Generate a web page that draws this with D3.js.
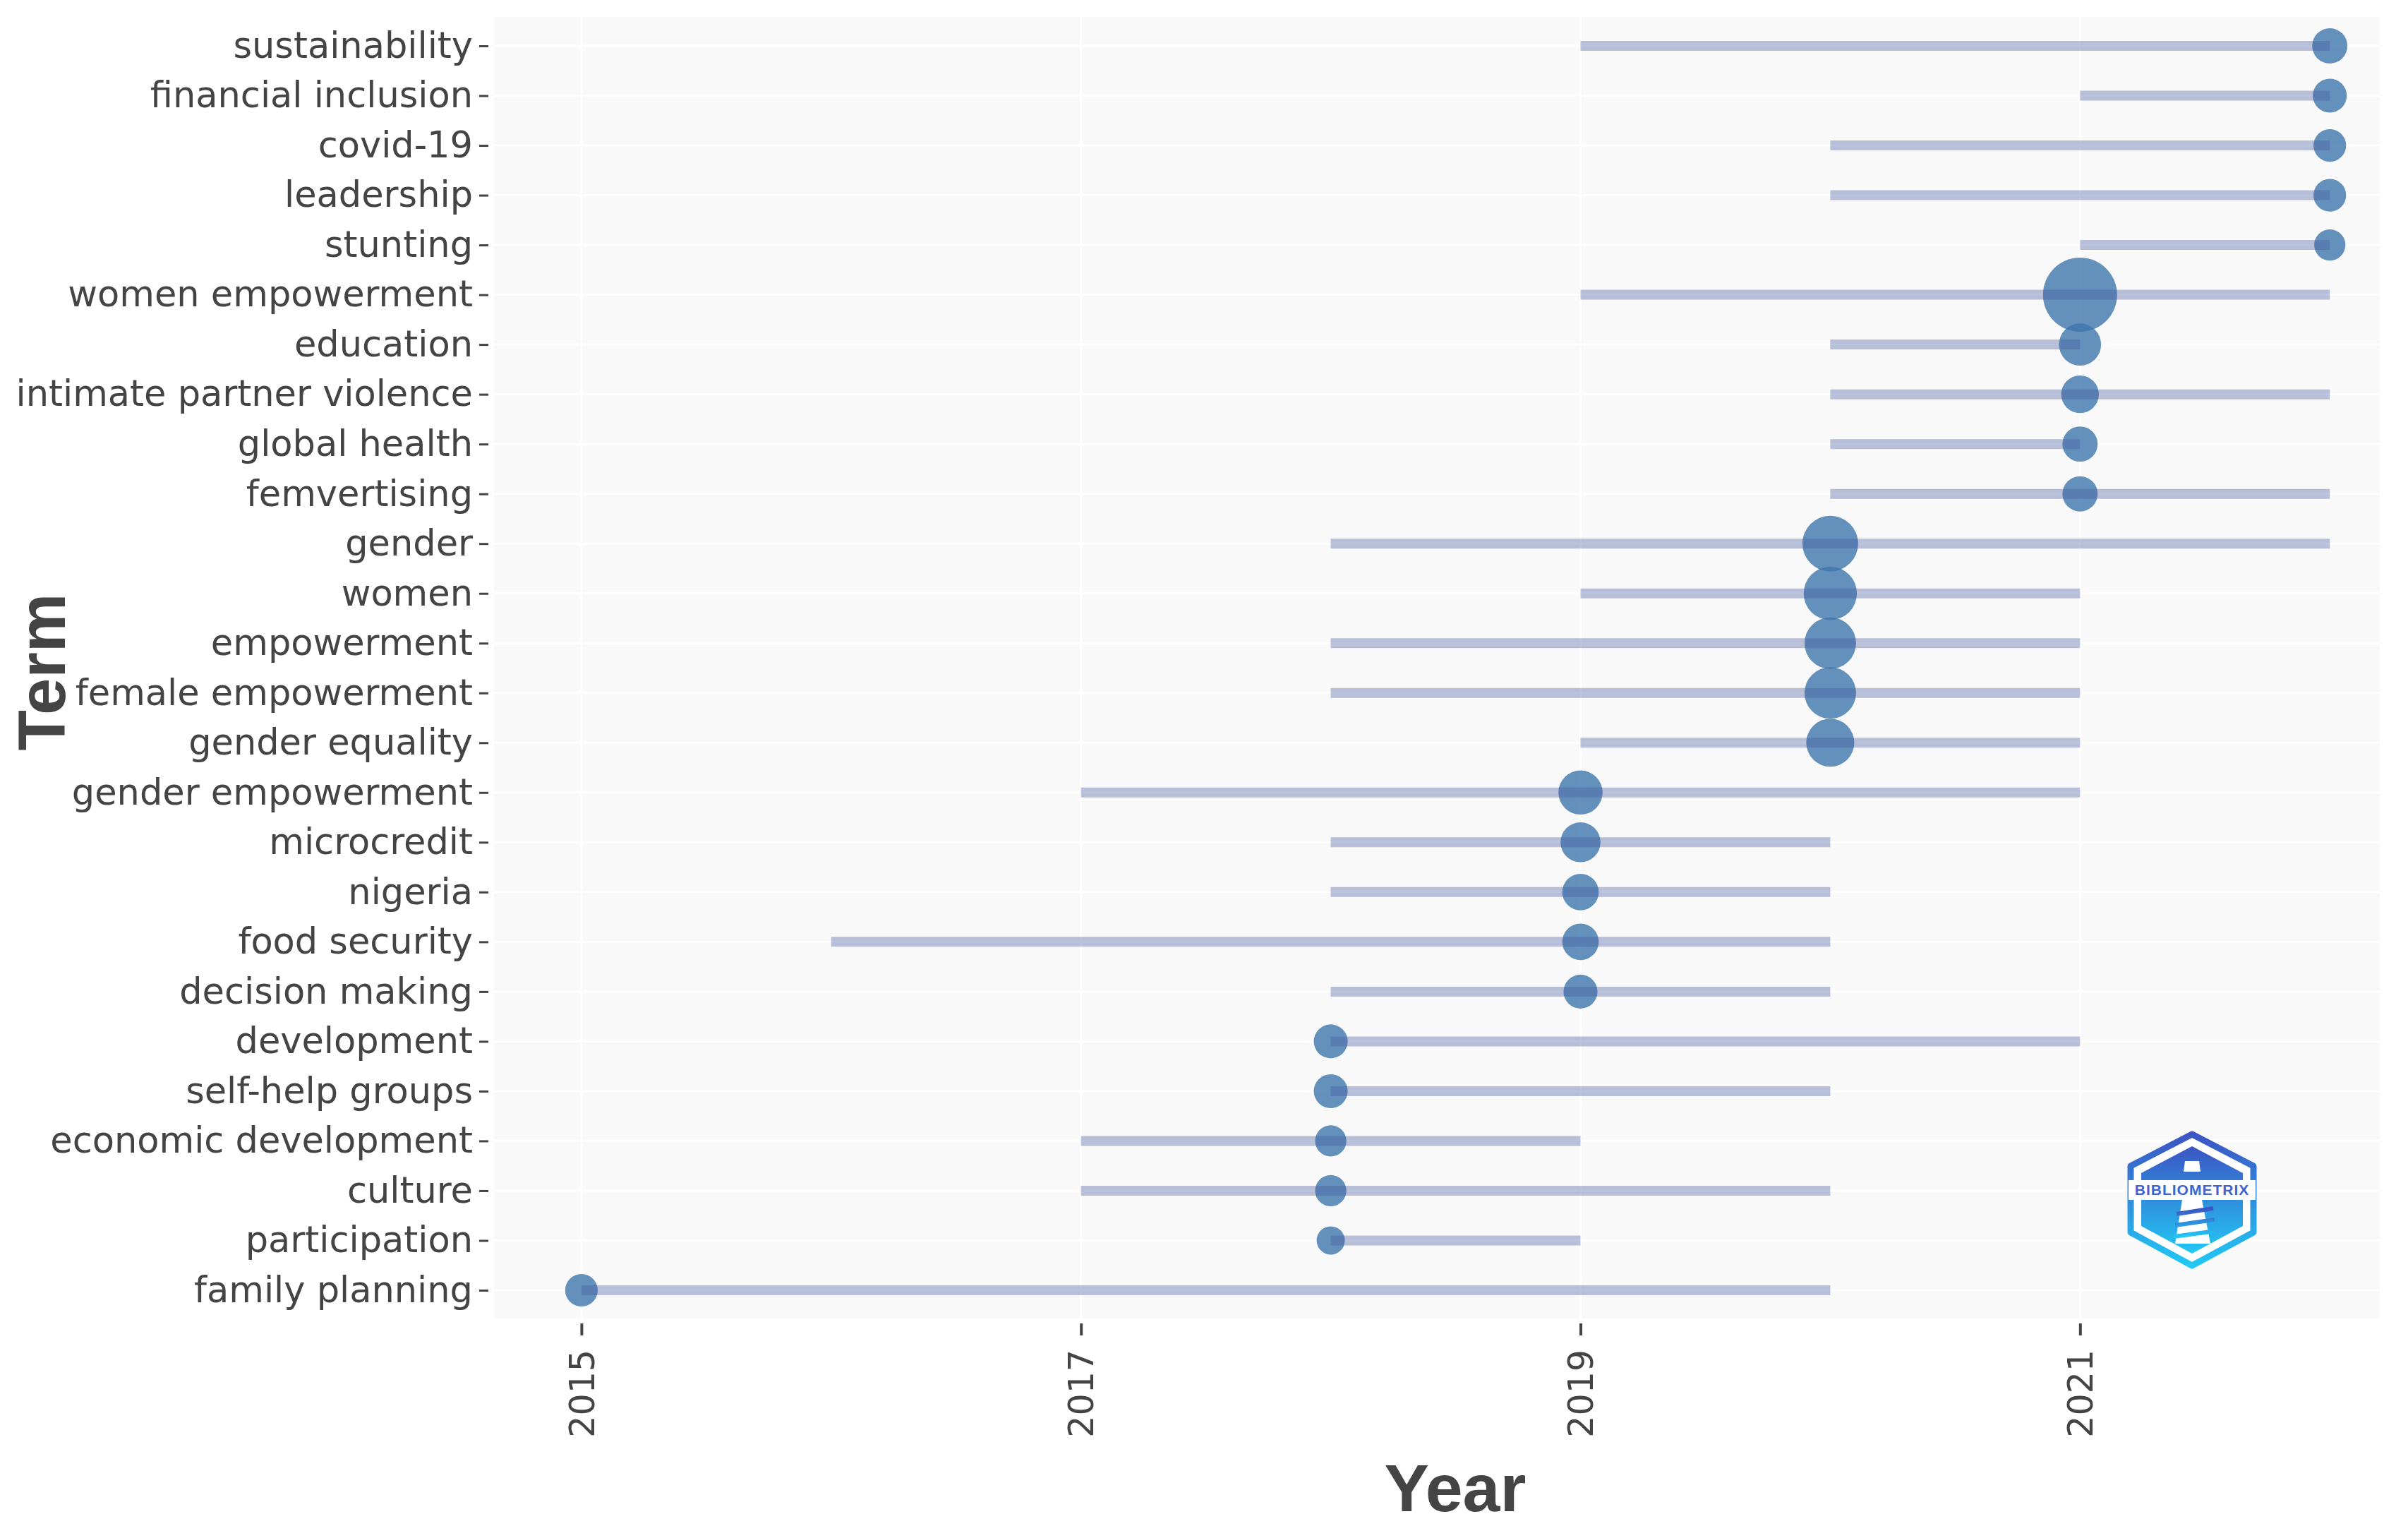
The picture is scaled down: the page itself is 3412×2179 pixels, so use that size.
<!DOCTYPE html>
<html>
<head>
<meta charset="utf-8">
<script src="https://cdn.jsdelivr.net/npm/d3@7"></script>
<style>
  body { margin: 0; background: #fff; }
</style>
</head>
<body>
<div id="chart"></div>
<script>
// terms, top to bottom
var terms = ["sustainability", "financial inclusion", "covid-19", "leadership", "stunting",
  "women empowerment", "education", "intimate partner violence", "global health", "femvertising",
  "gender", "women", "empowerment", "female empowerment", "gender equality",
  "gender empowerment", "microcredit", "nigeria", "food security", "decision making",
  "development", "self-help groups", "economic development", "culture", "participation",
  "family planning"];
// first quartile year, median year, third quartile year
var yearQ1 = [2019, 2021, 2020, 2020, 2021,
  2019, 2020, 2020, 2020, 2020,
  2018, 2019, 2018, 2018, 2019,
  2017, 2018, 2018, 2016, 2018,
  2018, 2018, 2017, 2017, 2018,
  2015];
var yearMedian = [2022, 2022, 2022, 2022, 2022,
  2021, 2021, 2021, 2021, 2021,
  2020, 2020, 2020, 2020, 2020,
  2019, 2019, 2019, 2019, 2019,
  2018, 2018, 2018, 2018, 2018,
  2015];
var yearQ3 = [2022, 2022, 2022, 2022, 2022,
  2022, 2021, 2022, 2021, 2022,
  2022, 2021, 2021, 2021, 2021,
  2021, 2020, 2020, 2020, 2020,
  2021, 2020, 2019, 2020, 2019,
  2020];
// term frequency (bubble size)
var freq = [14, 13, 12, 12, 11,
  62, 20, 16, 14, 14,
  35, 32, 30, 30, 26,
  22, 18, 15, 15, 13,
  13, 13, 11, 11, 9,
  12];
var yearTicks = [2015, 2017, 2019, 2021];

function init() {
  var w = 3412;
  var h = 2179;
  var left = 700, right = 3372, top = 24, bottom = 1868;

  var svg = d3.select("#chart")
    .append("svg")
    .attr("width", w)
    .attr("height", h);

  svg.append("rect")
    .attr("width", w)
    .attr("height", h)
    .attr("fill", "#fff");

  var x = d3.scaleLinear()
    .domain([2014.65, 2022.2])
    .range([left, right]);

  var y = d3.scalePoint()
    .domain(terms)
    .range([65, 1828]);

  var r = d3.scaleSqrt()
    .domain([0, d3.max(freq)])
    .range([0, 52.5]);

  var data = terms.map(function(t, i) {
    return { term: t, q1: yearQ1[i], med: yearMedian[i], q3: yearQ3[i], freq: freq[i] };
  });

  // plot background
  svg.append("rect")
    .attr("x", left)
    .attr("y", top)
    .attr("width", right - left)
    .attr("height", bottom - top)
    .attr("fill", "#f9f9f9");

  // grid
  svg.append("g")
    .selectAll("line")
    .data(terms)
    .enter()
    .append("line")
    .attr("x1", left)
    .attr("x2", right)
    .attr("y1", function(d) { return y(d); })
    .attr("y2", function(d) { return y(d); })
    .attr("stroke", "#fff")
    .attr("stroke-width", 3);

  svg.append("g")
    .selectAll("line")
    .data(yearTicks)
    .enter()
    .append("line")
    .attr("x1", function(d) { return x(d); })
    .attr("x2", function(d) { return x(d); })
    .attr("y1", top)
    .attr("y2", bottom)
    .attr("stroke", "#fff")
    .attr("stroke-width", 3);

  // bubbles
  svg.append("g")
    .selectAll("circle")
    .data(data)
    .enter()
    .append("circle")
    .attr("cx", function(d) { return x(d.med); })
    .attr("cy", function(d) { return y(d.term); })
    .attr("r", function(d) { return r(d.freq); })
    .attr("fill", "#3f76ad")
    .attr("fill-opacity", 0.8);

  // quartile segments
  svg.append("g")
    .selectAll("line")
    .data(data)
    .enter()
    .append("line")
    .attr("x1", function(d) { return x(d.q1); })
    .attr("x2", function(d) { return x(d.q3); })
    .attr("y1", function(d) { return y(d.term); })
    .attr("y2", function(d) { return y(d.term); })
    .attr("stroke", "rgb(70,90,160)")
    .attr("stroke-opacity", 0.37)
    .attr("stroke-width", 14);

  // y axis
  var yAxis = d3.axisLeft(y)
    .tickSize(13)
    .tickPadding(9);

  var gy = svg.append("g")
    .attr("transform", "translate(692,0)")
    .call(yAxis);
  gy.select(".domain").remove();
  gy.selectAll("line").attr("stroke", "#444").attr("stroke-width", 3);
  gy.selectAll("text")
    .attr("fill", "#444")
    .style("font-family", "DejaVu Sans")
    .style("font-size", "51px");

  // x axis
  var xAxis = d3.axisBottom(x)
    .tickValues(yearTicks)
    .tickFormat(d3.format("d"))
    .tickSize(17);

  var gx = svg.append("g")
    .attr("transform", "translate(0,1875)")
    .call(xAxis);
  gx.select(".domain").remove();
  gx.selectAll("line").attr("stroke", "#444").attr("stroke-width", 4);
  gx.selectAll("text")
    .attr("transform", "rotate(-90)")
    .attr("x", -37)
    .attr("y", 0)
    .attr("dy", "0.35em")
    .attr("text-anchor", "end")
    .attr("fill", "#444")
    .style("font-family", "DejaVu Sans")
    .style("font-size", "49px");

  // axis titles
  svg.append("text")
    .attr("x", 2062)
    .attr("y", 2141)
    .attr("text-anchor", "middle")
    .attr("fill", "#444")
    .style("font-family", "Liberation Sans")
    .style("font-weight", "bold")
    .style("font-size", "95px")
    .text("Year");

  svg.append("text")
    .attr("transform", "translate(92,952) rotate(-90)")
    .attr("text-anchor", "middle")
    .attr("fill", "#444")
    .style("font-family", "Liberation Sans")
    .style("font-weight", "bold")
    .style("font-size", "94px")
    .text("Term");

  // bibliometrix logo
  var defs = svg.append("defs");
  var grad = defs.append("linearGradient")
    .attr("id", "logoGrad")
    .attr("x1", 0).attr("y1", 0).attr("x2", 0).attr("y2", 1);
  grad.append("stop").attr("offset", "0%").attr("stop-color", "#3c55c4");
  grad.append("stop").attr("offset", "100%").attr("stop-color", "#22c8f4");

  var logo = svg.append("g").attr("transform", "translate(3106,1700)");
  var hexOuter = [[0, -93], [87, -48], [87, 46], [0, 93], [-87, 46], [-87, -48]];
  var hexInner = [[0, -76], [72, -38], [72, 37], [0, 76], [-72, 37], [-72, -38]];
  var lineGen = d3.line();

  logo.append("path")
    .attr("d", lineGen(hexOuter) + "Z")
    .attr("fill", "#fff")
    .attr("stroke", "url(#logoGrad)")
    .attr("stroke-width", 9)
    .attr("stroke-linejoin", "round");
  logo.append("path")
    .attr("d", lineGen(hexInner) + "Z")
    .attr("fill", "url(#logoGrad)");
  // white band behind the name
  logo.append("rect")
    .attr("x", -90).attr("y", -28)
    .attr("width", 180).attr("height", 28)
    .attr("fill", "#fff");
  // lighthouse
  logo.append("path")
    .attr("d", "M-10,-55 L10,-55 L12,-40 L-12,-40 Z M-14,0 L14,0 L26,62 L-24,62 Z")
    .attr("fill", "#fff");
  logo.append("path")
    .attr("d", "M-22,20 L30,12 M-24,36 L32,28 M-26,52 L34,44")
    .attr("stroke", "url(#logoGrad)")
    .attr("stroke-width", 6)
    .attr("fill", "none");
  logo.append("text")
    .attr("x", 0)
    .attr("y", -7)
    .attr("text-anchor", "middle")
    .attr("fill", "#3f63cf")
    .style("font-family", "Liberation Sans")
    .style("font-weight", "bold")
    .style("font-size", "21px")
    .style("letter-spacing", "1px")
    .text("BIBLIOMETRIX");
}

window.onload = init;
</script>
</body>
</html>
